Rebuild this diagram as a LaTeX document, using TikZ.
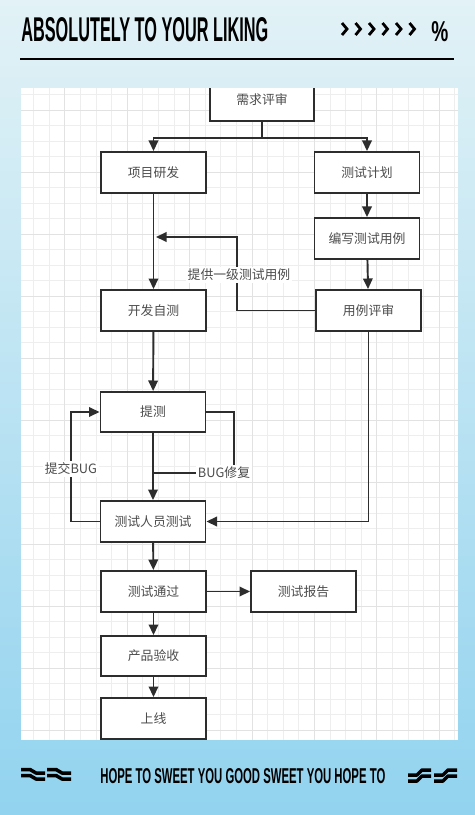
\documentclass[tikz,border=0pt]{standalone}
\usepackage{fontspec}
\usepackage{graphicx}
\usepackage{tikz}
\setmainfont{Liberation Sans}
\newfontfamily\cjk{Noto Sans CJK SC}
\usetikzlibrary{arrows.meta,calc}

\definecolor{bgtop}{RGB}{226,242,246}
\definecolor{bgbot}{RGB}{146,211,239}
\definecolor{ink}{RGB}{45,45,45}
\definecolor{gridc}{RGB}{238,238,238}
\definecolor{gridm}{RGB}{226,226,226}

\begin{document}
\begin{tikzpicture}[x=0.02cm, y=-0.02cm,
    box/.style={draw=ink, line width=1.1pt, fill=white, minimum width=2.1cm, minimum height=0.82cm, inner sep=0pt, font=\cjk\fontsize{7.3}{8}\selectfont, text=ink!85},
    conn/.style={draw=ink, line width=1.1pt},
    arr/.style={conn, -{Triangle[length=6pt,width=5.4pt]}},
    lbl/.style={fill=white, inner sep=1pt, font=\cjk\fontsize{7.3}{8}\selectfont, text=ink!85},
    wave/.style={line width=2pt, line join=round}]
    \useasboundingbox (0,0) rectangle (475,815);

    % Background
    \shade[top color=bgtop, bottom color=bgbot] (0,0) rectangle (475,815);

    % Header
    \node[anchor=west, inner sep=0pt] (title) at (21,30) {\resizebox{4.94cm}{0.48cm}{\bfseries ABSOLUTELY TO YOUR LIKING}};
    \foreach \i in {0,...,5}
        \draw[line width=1.6pt, line join=miter] ({342+13.5*\i},23) -- ({347+13.5*\i},29) -- ({342+13.5*\i},35);
    \node[anchor=west, inner sep=0pt] (pct) at (431,32) {\resizebox{0.34cm}{0.4cm}{\bfseries\%}};
    \draw[line width=1.2pt] (20,59) -- (454,59);

    % Grid paper
    \begin{scope}
        \clip (21,88) rectangle (458,740);
        \fill[white] (21,88) rectangle (458,740);
        \foreach \i in {0,...,28}
            \draw[gridc, line width=0.4pt] ({18+15.6*\i},88) -- ({18+15.6*\i},740);
        \foreach \j in {0,...,42}
            \draw[gridc, line width=0.4pt] (21,{94.5+15.5*\j}) -- (458,{94.5+15.5*\j});
        \foreach \i in {3,7,...,27}
            \draw[gridm, line width=0.5pt] ({18+15.6*\i},88) -- ({18+15.6*\i},740);
        \foreach \j in {1,5,...,41}
            \draw[gridm, line width=0.5pt] (21,{94.5+15.5*\j}) -- (458,{94.5+15.5*\j});

        % Boxes
        \node[box, minimum width=2.08cm, minimum height=0.84cm] (xq) at (262,100) {需求评审};
        \node[box] (yf) at (153.5,172.5) {项目研发};
        \node[box] (jh) at (367,172.5) {测试计划};
        \node[box] (bx) at (367,238.5) {编写测试用例};
        \node[box] (kf) at (153.5,310.5) {开发自测};
        \node[box] (ps) at (368.5,310.5) {用例评审};
        \node[box, minimum height=0.8cm] (tc) at (153,412) {提测};
        \node[box] (ry) at (153,521.5) {测试人员测试};
        \node[box] (tg) at (153.5,591.5) {测试通过};
        \node[box] (bg) at (303.5,591.5) {测试报告};
        \node[box, minimum height=0.8cm] (ys) at (153.5,656) {产品验收};
        \node[box] (sx) at (153.5,718.5) {上线};

        % Branch from review
        \draw[conn] (xq.south) -- ++(0,16) coordinate (br);
        \draw[arr] (br) -| (yf.north);
        \draw[arr] (br) -| (jh.north);

        % Test side
        \draw[arr] (jh) -- (bx);
        \draw[arr] (bx) -- (ps);

        % Dev side
        \draw[arr] (yf) -- (kf);
        \draw[arr] (kf) -- (tc);
        \draw[arr] (tc) -- (ry);

        % Cases handed to dev
        \coordinate (c1) at (237,237);
        \coordinate (tgt) at (156,237);
        \draw[arr] (ps.west) -| (c1) -- (tgt);
        \node[lbl] (tgl) at (239,275) {提供一级测试用例};

        % Bug loop
        \coordinate (sb) at (71,469);
        \draw[arr] (ry.west) -| (sb) |- (tc.west);
        \node[lbl] (sbl) at (sb) {提交BUG};
        \coordinate (fx) at (234,473);
        \draw[conn] (tc.east) -| (fx) -- (fx -| tc.south);
        \node[lbl] (fxl) at (224,473) {BUG修复};

        % Review to tester
        \draw[arr] (ps.south) |- (ry.east);

        % Release
        \draw[arr] (ry) -- (tg);
        \draw[arr] (tg) -- (bg);
        \draw[arr] (tg) -- (ys);
        \draw[arr] (ys) -- (sx);
    \end{scope}

    % Footer
    \foreach \x in {21,47} {
        \draw[wave] (\x,769.5) -- (\x+9,769.5) -- (\x+15,773) -- (\x+24,773);
        \draw[wave] (\x,775.5) -- (\x+9,775.5) -- (\x+15,779) -- (\x+24,779);
    }
    \node[anchor=west, inner sep=0pt] (motto) at (100,776.5) {\resizebox{5.7cm}{0.3cm}{\bfseries HOPE TO SWEET YOU GOOD SWEET YOU HOPE TO}};
    \foreach \x in {408,434} {
        \draw[wave] (\x,775) -- (\x+9,775) -- (\x+14,770) -- (\x+23,770);
        \draw[wave] (\x,781) -- (\x+9,781) -- (\x+14,776) -- (\x+23,776);
    }
\end{tikzpicture}
\end{document}
